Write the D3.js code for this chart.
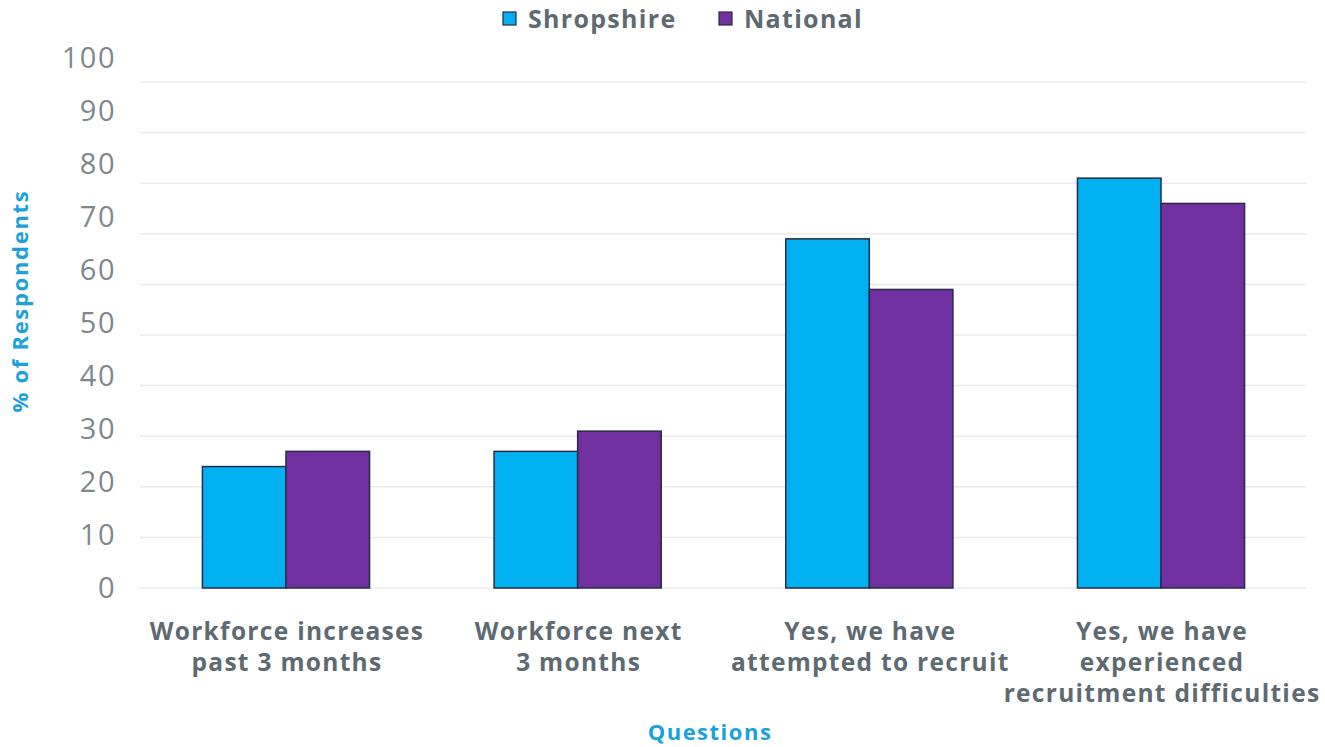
<!DOCTYPE html>
<html>
<head>
<meta charset="utf-8">
<script src="https://cdn.jsdelivr.net/npm/d3@7"></script>
<style>
  body { margin: 0; background: #fff; }
  svg { display: block; font-family: "Open Sans", "DejaVu Sans", sans-serif; }
</style>
</head>
<body>
<svg id="chart" width="1325" height="747"></svg>
<script>
// data
var questions = [
  ["Workforce increases", "past 3 months"],
  ["Workforce next", "3 months"],
  ["Yes, we have", "attempted to recruit"],
  ["Yes, we have", "experienced", "recruitment difficulties"]
]
var seriesNames = ["Shropshire", "National"]
var shropshire = [24, 27, 69, 81]
var national = [27, 31, 59, 76]
var yTicks = [0, 10, 20, 30, 40, 50, 60, 70, 80, 90, 100]

var COLORS = ["#00b0f0", "#7030a0"]
var STROKE = "#262c48"
var LEFT = 140, RIGHT = 1307, TOP = 82, BOTTOM = 588

var svg = d3.select("#chart")

var x0 = d3.scaleBand()
  .domain(d3.range(questions.length))
  .range([LEFT, RIGHT])
  .paddingInner(0.427)
  .paddingOuter(0.214)

var x1 = d3.scaleBand()
  .domain(seriesNames)
  .range([0, x0.bandwidth()])

var y = d3.scaleLinear().domain([0, 100]).range([BOTTOM, TOP])
// tick labels in the original sit on a slightly taller scale than the grid
var yLabel = d3.scaleLinear().domain([0, 100]).range([BOTTOM, 58])

// gridlines
svg.append("g")
  .selectAll("line")
  .data(yTicks)
  .enter().append("line")
  .attr("x1", LEFT)
  .attr("x2", RIGHT)
  .attr("y1", function(d) { return y(d) })
  .attr("y2", function(d) { return y(d) })
  .attr("stroke", "#ececec")
  .attr("stroke-width", 1.5)

// y tick labels
svg.append("g")
  .selectAll("text")
  .data(yTicks)
  .enter().append("text")
  .attr("x", 116)
  .attr("y", function(d) { return yLabel(d) })
  .attr("dy", "0.36em")
  .attr("text-anchor", "end")
  .attr("fill", "#7f878e")
  .attr("font-size", 29)
  .attr("letter-spacing", 1.5)
  .text(function(d) { return d })

// bars
var rows = questions.map(function(q, i) {
  return [
    { key: seriesNames[0], value: shropshire[i], i: i },
    { key: seriesNames[1], value: national[i], i: i }
  ]
})

svg.append("g")
  .selectAll("g")
  .data(rows)
  .enter().append("g")
  .attr("transform", function(d, i) { return "translate(" + x0(i) + ",0)" })
  .selectAll("rect")
  .data(function(d) { return d })
  .enter().append("rect")
  .attr("x", function(d) { return x1(d.key) })
  .attr("y", function(d) { return y(d.value) })
  .attr("width", x1.bandwidth())
  .attr("height", function(d) { return y(0) - y(d.value) })
  .attr("fill", function(d, j) { return COLORS[j] })
  .attr("stroke", STROKE)
  .attr("stroke-width", 1.5)

// category labels
var xl = svg.append("g")
  .selectAll("text")
  .data(questions)
  .enter().append("text")
  .attr("x", function(d, i) { return x0(i) + x0.bandwidth() / 2 + 1 })
  .attr("y", 640)
  .attr("text-anchor", "middle")
  .attr("fill", "#5e6a72")
  .attr("font-size", 24.5)
  .attr("font-weight", "bold")
  .attr("letter-spacing", 1.3)

xl.selectAll("tspan")
  .data(function(d) { return d })
  .enter().append("tspan")
  .attr("x", function() { return d3.select(this.parentNode).attr("x") })
  .attr("dy", function(d, k) { return k == 0 ? 0 : 31 })
  .text(function(d) { return d })

// axis titles
svg.append("text")
  .attr("x", 710)
  .attr("y", 740)
  .attr("text-anchor", "middle")
  .attr("fill", "#1ba1dc")
  .attr("font-size", 22)
  .attr("font-weight", "bold")
  .attr("letter-spacing", 1.5)
  .text("Questions")

svg.append("text")
  .attr("transform", "translate(28,301) rotate(-90)")
  .attr("text-anchor", "middle")
  .attr("fill", "#1ba1dc")
  .attr("font-size", 22)
  .attr("font-weight", "bold")
  .attr("letter-spacing", 1.7)
  .text("% of Respondents")

// legend
var legendX = [503, 719]
var legend = svg.append("g")
  .selectAll("g")
  .data(seriesNames)
  .enter().append("g")
  .attr("transform", function(d, i) { return "translate(" + legendX[i] + ",12)" })

legend.append("rect")
  .attr("width", 13)
  .attr("height", 13)
  .attr("fill", function(d, i) { return COLORS[i] })
  .attr("stroke", STROKE)
  .attr("stroke-width", 1.2)

legend.append("text")
  .attr("x", 25)
  .attr("y", 16)
  .attr("fill", "#5e6a72")
  .attr("font-size", 25)
  .attr("font-weight", "bold")
  .attr("letter-spacing", 1.3)
  .text(function(d) { return d })
</script>
</body>
</html>
